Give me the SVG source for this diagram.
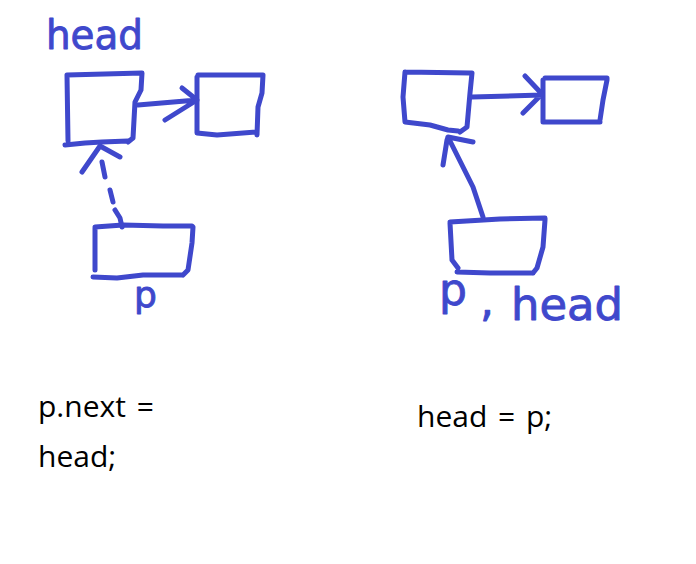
<svg xmlns="http://www.w3.org/2000/svg" width="696" height="564" viewBox="0 0 696 564">
<style>
.ink{fill:none;stroke:#3f48cc;stroke-width:5;stroke-linecap:round;stroke-linejoin:round}
.hand{font-family:"DejaVu Sans",sans-serif;fill:#3f48cc;stroke:#3f48cc;stroke-width:0.9;stroke-linejoin:round}
.code{font-family:"Open Sans","Liberation Sans",sans-serif;font-size:30px;fill:#000}
</style>
<rect width="696" height="564" fill="#fff"/>
<g id="left-head-node">
<path class="ink" d="M67,75 L68,141 M67,75 L142,73 L141,90 L135,102 L133,138 L128,142 M65,145 L85,143 L102,142 L128,141"/>
<text class="hand" x="46" y="49" font-size="40" textLength="97" lengthAdjust="spacingAndGlyphs">head</text>
</g>
<g id="left-next-node">
<path class="ink" d="M198,75 L263,75 L262,93 L258,107 L257,135 M197,77 L197,133 L217,135 L257,132"/>
</g>
<g id="left-p-node">
<path class="ink" d="M95,227 L123,225 L163,226 L192,226 L193,227 L192,243 L188,270 L183,275 M95,228 L95,270 M93,277 L117,278 L143,275 L182,275"/>
<text class="hand" x="134" y="307" font-size="36">p</text>
</g>
<g id="right-head-node">
<path class="ink" d="M405,72 L470,73 L472,73 L470,93 L467,127 L460,132 M405,72 L403,97 L405,122 L430,125 L448,130 L458,131"/>
</g>
<g id="right-next-node">
<path class="ink" d="M545,78 L607,78 L607,80 L603,100 L600,120 M543,80 L543,122 L600,122"/>
</g>
<g id="right-p-node">
<path class="ink" d="M450,222 L500,219 L545,218 L545,220 L543,247 L537,268 L533,273 M450,223 L452,260 L458,268 M457,272 L490,273 L533,273"/>
<text class="hand" font-size="44"><tspan x="439" y="305">p</tspan><tspan x="480" y="316">,</tspan><tspan x="511" y="320" textLength="112" lengthAdjust="spacingAndGlyphs">head</tspan></text>
</g>
<g id="connectors">
<path class="ink" d="M138,105 L197,100 M182,88 L197,100 L165,120"/>
<path class="ink" d="M122,227 L120,218 L115,210 M113,202 L110,190 M105,177 L102,162 M82,172 L100,146 L120,157"/>
<path class="ink" d="M472,97 L542,95 M525,76 L542,94 L523,113"/>
<path class="ink" d="M483,217 L473,187 L448,137 M443,165 L447,140 L448,137 L473,142"/>
</g>
<g id="code">
<text class="code" x="38" y="417" word-spacing="3">p.next =</text>
<text class="code" x="38" y="467">head;</text>
<text class="code" x="417" y="427" word-spacing="3">head = p;</text>
</g>
</svg>
